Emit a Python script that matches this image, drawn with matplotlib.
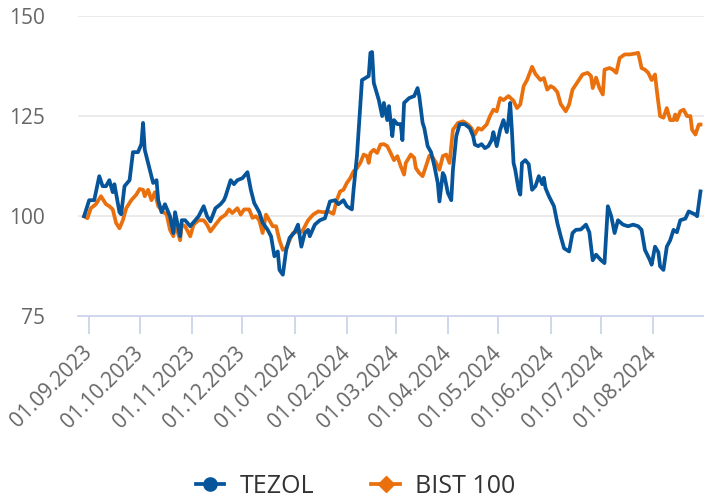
import numpy as np
import pandas as pd
import matplotlib
matplotlib.use("Agg")
import matplotlib.pyplot as plt
import matplotlib.dates as mdates

plt.rcParams["font.family"] = ["Open Sans", "DejaVu Sans"]

# TEZOL, normalised to 100 at the start
tezol_dates = [
    "2023-08-29", "2023-09-01", "2023-09-04", "2023-09-07", "2023-09-09", "2023-09-11",
    "2023-09-13", "2023-09-15", "2023-09-16", "2023-09-19", "2023-09-20", "2023-09-22",
    "2023-09-25", "2023-09-27", "2023-09-29", "2023-09-30", "2023-10-02", "2023-10-03",
    "2023-10-04", "2023-10-07", "2023-10-09", "2023-10-11", "2023-10-12", "2023-10-14",
    "2023-10-16", "2023-10-19", "2023-10-21", "2023-10-22", "2023-10-25", "2023-10-26",
    "2023-10-28", "2023-10-31", "2023-11-03", "2023-11-05", "2023-11-08", "2023-11-10",
    "2023-11-12", "2023-11-15", "2023-11-18", "2023-11-20", "2023-11-21", "2023-11-24",
    "2023-11-26", "2023-11-28", "2023-12-01", "2023-12-04", "2023-12-06", "2023-12-08",
    "2023-12-11", "2023-12-13", "2023-12-16", "2023-12-18", "2023-12-20", "2023-12-22",
    "2023-12-23", "2023-12-25", "2023-12-27", "2023-12-29", "2024-01-01", "2024-01-03",
    "2024-01-05", "2024-01-07", "2024-01-09", "2024-01-10", "2024-01-13", "2024-01-16",
    "2024-01-19", "2024-01-22", "2024-01-25", "2024-01-27", "2024-01-30", "2024-02-01",
    "2024-02-04", "2024-02-05", "2024-02-07", "2024-02-09", "2024-02-10", "2024-02-12",
    "2024-02-14", "2024-02-15", "2024-02-16", "2024-02-17", "2024-02-20", "2024-02-22",
    "2024-02-23", "2024-02-25", "2024-02-26", "2024-02-28", "2024-02-29", "2024-03-02",
    "2024-03-04", "2024-03-05", "2024-03-06", "2024-03-09", "2024-03-12", "2024-03-14",
    "2024-03-15", "2024-03-17", "2024-03-18", "2024-03-20", "2024-03-22", "2024-03-24",
    "2024-03-26", "2024-03-27", "2024-03-29", "2024-03-30", "2024-04-01", "2024-04-03",
    "2024-04-04", "2024-04-06", "2024-04-08", "2024-04-11", "2024-04-14", "2024-04-16",
    "2024-04-17", "2024-04-19", "2024-04-21", "2024-04-23", "2024-04-25", "2024-04-27",
    "2024-04-28", "2024-04-30", "2024-05-02", "2024-05-04", "2024-05-06", "2024-05-07",
    "2024-05-08", "2024-05-09", "2024-05-10", "2024-05-11", "2024-05-13", "2024-05-14",
    "2024-05-15", "2024-05-17", "2024-05-19", "2024-05-21", "2024-05-23", "2024-05-25",
    "2024-05-27", "2024-05-28", "2024-05-29", "2024-05-31", "2024-06-03", "2024-06-05",
    "2024-06-07", "2024-06-09", "2024-06-12", "2024-06-14", "2024-06-16", "2024-06-19",
    "2024-06-22", "2024-06-24", "2024-06-26", "2024-06-28", "2024-07-01", "2024-07-03",
    "2024-07-05", "2024-07-07", "2024-07-09", "2024-07-11", "2024-07-14", "2024-07-17",
    "2024-07-20", "2024-07-23", "2024-07-25", "2024-07-27", "2024-07-30", "2024-07-31",
    "2024-08-02", "2024-08-04", "2024-08-05", "2024-08-07", "2024-08-09", "2024-08-11",
    "2024-08-13", "2024-08-15", "2024-08-17", "2024-08-20", "2024-08-22", "2024-08-24",
    "2024-08-26", "2024-08-27", "2024-08-29",
]
tezol_values = [
    100, 104, 104, 110, 107.5, 107.5,
    109, 106, 108, 101, 100.5, 107.5,
    109, 116, 116, 116, 118, 123.3,
    116.6, 111.6, 108.3, 109, 104, 101,
    103, 100, 95.8, 101, 95, 99,
    99, 97.5, 99, 100, 102.5, 100,
    98.7, 102, 103, 104, 105, 109,
    108, 109, 109.5, 111, 106.6, 103.3,
    101, 98.4, 96.6, 95, 90, 91.2,
    86.6, 85.4, 91.6, 94.6, 96, 97.9,
    92.4, 95.8, 96.6, 95, 97.9, 99,
    99.5, 103.7, 104, 103, 104, 102.5,
    101.7, 106.6, 115, 127.5, 134, 134.5,
    135, 140.8, 141, 133.3, 129, 125,
    128.3, 124, 127.5, 120, 124, 123,
    123, 119, 128.3, 129.5, 130, 132,
    130, 123.3, 122, 117.5, 116, 112.5,
    108.3, 103.7, 110.8, 110, 105.8, 104,
    111.6, 120, 123, 123, 122, 120,
    117.9, 117.5, 118, 117, 117.5, 119,
    121, 117.5, 121.5, 124, 121, 124,
    128.3, 121.5, 113.3, 111.6, 106.6, 105.4,
    113.3, 114, 113, 106.6, 107.5, 110,
    108, 109.6, 107, 105, 102.5, 98.3,
    95, 92, 91.2, 95.8, 96.6, 96.7,
    97.9, 96, 89, 90.4, 89, 88.3,
    102.5, 100, 95.8, 99, 97.9, 97.5,
    97.9, 97.5, 96.6, 91.6, 89, 87.9,
    92.4, 91, 87.5, 86.6, 92.4, 94,
    96.6, 96, 99, 99.4, 101.2, 100.8,
    100.4, 100, 106.2,
]

# BIST 100, normalised to 100 at the start
bist_dates = [
    "2023-08-29", "2023-08-31", "2023-09-02", "2023-09-05", "2023-09-08", "2023-09-11",
    "2023-09-13", "2023-09-15", "2023-09-17", "2023-09-19", "2023-09-21", "2023-09-23",
    "2023-09-26", "2023-09-29", "2023-10-01", "2023-10-03", "2023-10-04", "2023-10-06",
    "2023-10-08", "2023-10-10", "2023-10-12", "2023-10-15", "2023-10-17", "2023-10-19",
    "2023-10-21", "2023-10-22", "2023-10-25", "2023-10-26", "2023-10-28", "2023-10-31",
    "2023-11-02", "2023-11-05", "2023-11-08", "2023-11-10", "2023-11-12", "2023-11-15",
    "2023-11-18", "2023-11-21", "2023-11-23", "2023-11-25", "2023-11-28", "2023-11-30",
    "2023-12-02", "2023-12-05", "2023-12-07", "2023-12-09", "2023-12-11", "2023-12-13",
    "2023-12-15", "2023-12-17", "2023-12-19", "2023-12-21", "2023-12-23", "2023-12-25",
    "2023-12-27", "2023-12-29", "2023-12-31", "2024-01-02", "2024-01-04", "2024-01-06",
    "2024-01-09", "2024-01-12", "2024-01-15", "2024-01-18", "2024-01-21", "2024-01-24",
    "2024-01-26", "2024-01-28", "2024-01-30", "2024-02-01", "2024-02-03", "2024-02-05",
    "2024-02-07", "2024-02-09", "2024-02-11", "2024-02-13", "2024-02-14", "2024-02-15",
    "2024-02-17", "2024-02-19", "2024-02-21", "2024-02-23", "2024-02-25", "2024-02-27",
    "2024-02-29", "2024-03-02", "2024-03-04", "2024-03-06", "2024-03-07", "2024-03-10",
    "2024-03-12", "2024-03-13", "2024-03-15", "2024-03-17", "2024-03-19", "2024-03-21",
    "2024-03-23", "2024-03-25", "2024-03-27", "2024-03-29", "2024-03-31", "2024-04-02",
    "2024-04-04", "2024-04-07", "2024-04-10", "2024-04-13", "2024-04-15", "2024-04-17",
    "2024-04-19", "2024-04-21", "2024-04-24", "2024-04-26", "2024-04-28", "2024-04-30",
    "2024-05-02", "2024-05-04", "2024-05-07", "2024-05-10", "2024-05-12", "2024-05-14",
    "2024-05-16", "2024-05-18", "2024-05-21", "2024-05-23", "2024-05-26", "2024-05-28",
    "2024-05-30", "2024-06-01", "2024-06-03", "2024-06-05", "2024-06-07", "2024-06-10",
    "2024-06-12", "2024-06-14", "2024-06-17", "2024-06-20", "2024-06-23", "2024-06-25",
    "2024-06-26", "2024-06-28", "2024-06-30", "2024-07-02", "2024-07-03", "2024-07-06",
    "2024-07-08", "2024-07-10", "2024-07-12", "2024-07-15", "2024-07-18", "2024-07-21",
    "2024-07-23", "2024-07-24", "2024-07-25", "2024-07-27", "2024-07-29", "2024-07-31",
    "2024-08-02", "2024-08-03", "2024-08-04", "2024-08-05", "2024-08-07", "2024-08-09",
    "2024-08-11", "2024-08-13", "2024-08-14", "2024-08-15", "2024-08-17", "2024-08-19",
    "2024-08-21", "2024-08-23", "2024-08-24", "2024-08-26", "2024-08-28", "2024-08-29",
]
bist_values = [
    100, 99.5, 102, 103, 105, 103,
    102.5, 101.7, 98.3, 97, 99, 102,
    104, 105.4, 106.8, 106.6, 105, 106.6,
    104, 106, 102.5, 101, 100.5, 96.6,
    95, 98.3, 94, 97.9, 97.5, 95,
    97.9, 99, 99, 97.9, 96.2, 97.9,
    99.5, 100.4, 101.7, 100.8, 102, 100.4,
    101.7, 101.7, 99.6, 100, 99, 95.8,
    100.4, 99, 97.5, 97.5, 94, 91.6,
    92, 94, 95.8, 96.2, 95.8, 96.6,
    99, 100.4, 101.2, 101, 101.2, 100.6,
    104, 106.2, 106.6, 108.3, 109.5, 111.2,
    112, 113.3, 115.4, 115, 113.3, 115.8,
    116.6, 115.8, 117.9, 118, 117.5, 115.8,
    114, 115, 112.5, 110.4, 113.3, 115.4,
    114.6, 112, 110.8, 110, 112.5, 115.1,
    114.7, 113.3, 111.6, 115, 115.4, 113.3,
    121.6, 123.3, 123.7, 122.9, 122, 120.4,
    122, 121.6, 122.9, 125, 126.6, 126.2,
    129.5, 129, 130, 128.8, 127, 127.9,
    132.5, 134, 137.3, 135.5, 134, 134.5,
    131.6, 132.5, 132, 131, 128, 126.2,
    127.9, 131.6, 133.5, 135.4, 135.8, 135,
    132, 134.6, 132, 130.4, 136.6, 137,
    136.6, 135.8, 139.5, 140.4, 140.4, 140.6,
    140.8, 139, 137, 136.6, 135.8, 134,
    135.4, 131.6, 128.3, 125, 124.6, 127,
    124, 124, 125.4, 124, 126.2, 126.6,
    125, 125, 121.6, 120.4, 122.9, 122.9,
]

y_ticks = [75, 100, 125, 150]
month_ticks = pd.date_range("2023-09-01", "2024-08-01", freq="MS")

blue = "#06559a"
orange = "#ea700d"

fig = plt.figure(figsize=(7.04, 4.99), dpi=100)
ax = fig.add_axes([0.111, 0.366, 0.889, 0.602])

ax.plot(pd.to_datetime(tezol_dates), tezol_values, color=blue, lw=2.7,
        solid_joinstyle="round", zorder=3)
ax.plot(pd.to_datetime(bist_dates), bist_values, color=orange, lw=2.7,
        solid_joinstyle="round", zorder=2)

ax.set_ylim(75, 150)
ax.set_yticks(y_ticks)
ax.set_xlim(pd.Timestamp("2023-08-25 11:00"), pd.Timestamp("2024-08-31 02:00"))
ax.set_xticks(month_ticks)
ax.xaxis.set_major_formatter(mdates.DateFormatter("%d.%m.%Y"))

ax.grid(axis="y", color="#e6e6e6", lw=1.1)
ax.set_axisbelow(True)
for s in ["top", "right", "left"]:
    ax.spines[s].set_visible(False)
ax.spines["bottom"].set_color("#ccd6eb")
ax.spines["bottom"].set_linewidth(1.3)

ax.tick_params(axis="y", length=0, pad=24, labelsize=15, labelcolor="#666666")
ax.tick_params(axis="x", length=13, width=1.3, color="#ccd6eb", pad=11,
               labelsize=15, labelcolor="#666666")
for lbl in ax.get_xticklabels():
    lbl.set_rotation(45)
    lbl.set_ha("right")
    lbl.set_va("center")
    lbl.set_rotation_mode("anchor")

h1, = ax.plot([], [], color=blue, lw=2.7, marker="o", markersize=9.5, label="TEZOL")
h2, = ax.plot([], [], color=orange, lw=2.7, marker="D", markersize=8, label="BIST 100")
fig.legend(handles=[h1, h2], loc="lower center", bbox_to_anchor=(0.505, -0.045),
           ncol=2, frameon=False, fontsize=18, labelcolor="#333333",
           handlelength=1.15, handletextpad=0.6, columnspacing=2.3)

fig.savefig("out.png", dpi=100)
